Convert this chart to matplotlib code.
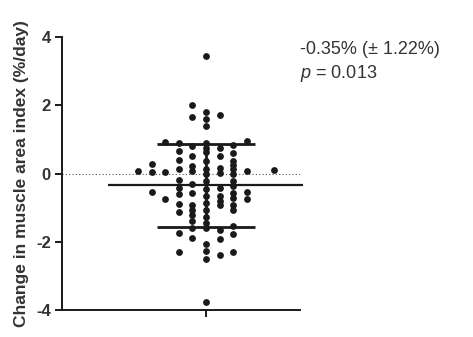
import numpy as np
import matplotlib
matplotlib.use("Agg")
import matplotlib.pyplot as plt

plt.rcParams['font.family'] = ['Liberation Sans', 'DejaVu Sans']
plt.rcParams['axes.unicode_minus'] = False
plt.rcParams['mathtext.fontset'] = 'custom'
plt.rcParams['mathtext.it'] = 'Liberation Sans:italic'
plt.rcParams['mathtext.rm'] = 'Liberation Sans'

# change in muscle area index (%/day), grouped by swarm slot
col_m5 = [0.07]
col_m4 = [0.29, 0.04, -0.54]
col_m3 = [0.93, 0.04, -0.74]
col_m2 = [0.91, 0.67, 0.40, 0.12, -0.19, -0.41, -0.61, -0.88, -1.12, -1.74, -2.29]
col_m1 = [2.00, 1.66, 0.81, 0.50, 0.23, 0.08, -0.31, -0.58, -0.92, -1.06,
          -1.21, -1.40, -1.60, -1.89]
col_0 = [3.44, 1.81, 1.59, 1.39, 0.91, 0.76, 0.62, 0.38, 0.13, -0.02, -0.21,
         -0.46, -0.65, -0.85, -1.06, -1.26, -1.44, -1.59, -2.06, -2.26, -2.51, -3.77]
col_p1 = [1.71, 0.74, 0.52, 0.16, 0.03, -0.41, -0.66, -0.79, -0.92, -1.65,
          -1.92, -2.40]
col_p2 = [0.84, 0.59, 0.37, 0.26, 0.13, -0.02, -0.21, -0.36, -0.56, -0.73,
          -0.92, -1.08, -1.54, -1.77, -2.29]
col_p3 = [0.95, 0.07, -0.54, -0.74]
col_p5 = [0.10]

columns = {-5: col_m5, -4: col_m4, -3: col_m3, -2: col_m2, -1: col_m1,
           0: col_0, 1: col_p1, 2: col_p2, 3: col_p3, 5: col_p5}

mean_change = -0.35
sd_change = 1.22
p_value = 0.013

fig = plt.figure(figsize=(4.73, 3.37), dpi=100)
ax = fig.add_axes([0.131, 0.080, 0.503, 0.810])

for slot, vals in columns.items():
    ax.plot([slot] * len(vals), vals, 'o', color='#1a1a1a', ms=4.9,
            mec='none', zorder=3)

# zero reference
ax.axhline(0, color='#555555', lw=0.8, ls=(0, (1, 2)), zorder=1)

# mean and SD
ax.plot([-7.2, 7.1], [mean_change, mean_change], color='#1a1a1a', lw=1.6,
        solid_capstyle='butt', clip_on=False, zorder=4)
for v in (mean_change - sd_change, mean_change + sd_change):
    ax.plot([-3.6, 3.6], [v, v], color='#1a1a1a', lw=2.0,
            solid_capstyle='butt', zorder=4)
ax.plot([0, 0], [mean_change - sd_change, mean_change + sd_change],
        color='#1a1a1a', lw=2.0, zorder=4)

ax.set_xlim(-10.6, 6.9)
ax.set_ylim(-4, 4)
ax.set_yticks([-4, -2, 0, 2, 4])
ax.set_xticks([0])
ax.set_xticklabels([''])
for s in ('top', 'right'):
    ax.spines[s].set_visible(False)
for s in ('left', 'bottom'):
    ax.spines[s].set_linewidth(1.4)
    ax.spines[s].set_color('#1a1a1a')
ax.tick_params(width=1.4, length=5, color='#1a1a1a', labelsize=12,
               labelcolor='#333333', pad=3)
for t in ax.get_yticklabels():
    t.set_fontweight('bold')
ax.set_ylabel('Change in muscle area index (%/day)', fontsize=12.5,
              fontweight='bold', color='#333333', labelpad=5)

fig.text(0.634, 0.852, f'{mean_change:.2f}% (± {sd_change:.2f}%)',
         fontsize=13, color='#333333', va='center')
fig.text(0.634, 0.782, f'$p$ = {p_value:.3f}', fontsize=13, color='#333333',
         va='center')

fig.savefig('out.png', dpi=100)
